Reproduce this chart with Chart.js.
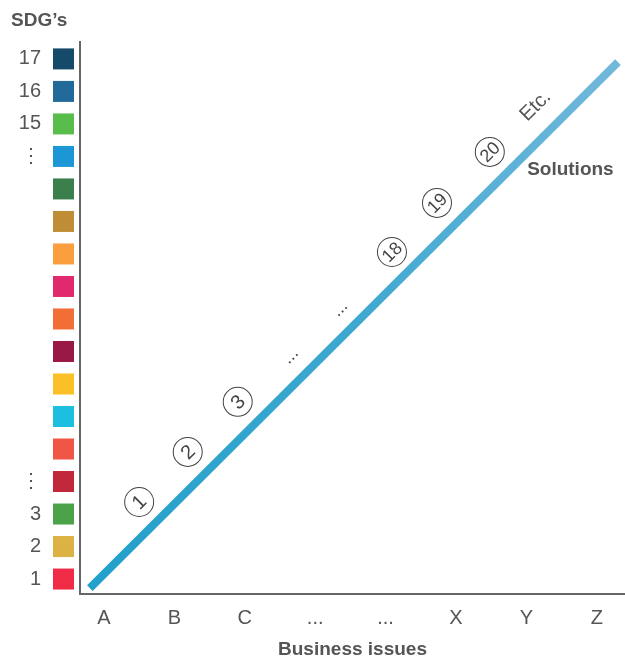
<!DOCTYPE html>
<html>
<head>
<meta charset="utf-8">
<script src="https://cdn.jsdelivr.net/npm/chart.js@4"></script>
<style>
  body { margin: 0; background: #fff; }
  #wrap { width: 625px; height: 659px; position: relative; }
</style>
</head>
<body>
<div id="wrap"><canvas id="sdgChart"></canvas></div>
<script>
// SDG rows (bottom to top)
const sdgRows = [1, 2, 3, 4, 5, 6, 7, 8, 9, 10, 11, 12, 13, 14, 15, 16, 17];
const sdgLabels = ['1', '2', '3', '⋮', '', '', '', '', '', '', '', '', '', '⋮', '15', '16', '17'];
const sdgColors = ['#ef2b45', '#dcb244', '#4ba248', '#c2263a', '#f05545', '#1dbfe1', '#fbbf28',
    '#9a1846', '#f36d37', '#e0296f', '#fa9e3e', '#bf8d35', '#3a7f4c', '#1b97d5', '#59bd4b',
    '#226a9a', '#154a6b'];

// Business issues along the bottom
const issueLabels = ['A', 'B', 'C', '...', '...', 'X', 'Y', 'Z'];

// Solutions line (start / end)
const lineX = [-0.2, 7.3];
const lineY = [0.72, 16.9];

// Numbered solutions along the line
const markerLabels = ['1', '2', '3', '…', '…', '18', '19', '20', 'Etc.'];
const markerX = [0.5, 1.19, 1.9, 2.68, 3.38, 4.09, 4.73, 5.48, 6.13];
const markerY = [3.37, 4.91, 6.45, 7.8, 9.25, 11.06, 12.57, 14.14, 15.55];

const FONT = '"Liberation Sans", Arial, sans-serif';
const TEXT = '#555';

const decorPlugin = {
    id: 'decor',
    afterDatasetsDraw(chart) {
        const ctx = chart.ctx;
        const xs = chart.scales.x, ys = chart.scales.y;
        ctx.save();
        markerLabels.forEach(function(lbl, i) {
            const px = xs.getPixelForValue(markerX[i]);
            const py = ys.getPixelForValue(markerY[i]);
            ctx.save();
            ctx.translate(px, py);
            ctx.rotate(-Math.PI / 4);
            ctx.fillStyle = '#444';
            ctx.textAlign = 'center';
            ctx.textBaseline = 'middle';
            if (lbl === '…') {
                ctx.font = '18px ' + FONT;
                ctx.fillText('...', 0, -3);
            } else if (lbl === 'Etc.') {
                ctx.fillStyle = TEXT;
                ctx.font = '20px ' + FONT;
                ctx.fillText(lbl, 0, 0);
            } else {
                ctx.beginPath();
                ctx.arc(0, 0, 14.5, 0, Math.PI * 2);
                ctx.strokeStyle = '#444';
                ctx.lineWidth = 1;
                ctx.stroke();
                ctx.font = (lbl.length > 1 ? '18px ' : '20px ') + FONT;
                ctx.fillText(lbl, 0, 1);
            }
            ctx.restore();
        });
        // Solutions label
        ctx.fillStyle = TEXT;
        ctx.font = 'bold 19px ' + FONT;
        ctx.textAlign = 'left';
        ctx.textBaseline = 'middle';
        ctx.fillText('Solutions', xs.getPixelForValue(6.01), ys.getPixelForValue(13.58));
        ctx.restore();
    },
    afterDraw(chart) {
        const ctx = chart.ctx;
        const ys = chart.scales.y;
        const left = chart.chartArea.left;
        ctx.save();
        sdgRows.forEach(function(row, i) {
            const py = ys.getPixelForValue(row);
            ctx.fillStyle = sdgColors[i];
            ctx.fillRect(left - 27, py - 10.5, 21, 21);
        });
        ctx.fillStyle = TEXT;
        ctx.font = 'bold 19px ' + FONT;
        ctx.textAlign = 'left';
        ctx.textBaseline = 'middle';
        ctx.fillText('SDG’s', 11, 21);
        ctx.restore();
    }
};

new Chart(document.getElementById('sdgChart'), {
    type: 'line',
    data: {
        datasets: [{
            data: lineX.map(function(x, i) { return { x: x, y: lineY[i] }; }),
            borderWidth: 8,
            borderCapStyle: 'butt',
            pointRadius: 0,
            borderColor: function(context) {
                const chart = context.chart;
                if (!chart.chartArea) return '#2aa3cf';
                const xs = chart.scales.x, ys = chart.scales.y;
                const g = chart.ctx.createLinearGradient(
                    xs.getPixelForValue(lineX[0]), ys.getPixelForValue(lineY[0]),
                    xs.getPixelForValue(lineX[1]), ys.getPixelForValue(lineY[1]));
                g.addColorStop(0, '#22a0cb');
                g.addColorStop(0.5, '#3ea8d0');
                g.addColorStop(1, '#72b8db');
                return g;
            }
        }]
    },
    options: {
        responsive: true,
        maintainAspectRatio: false,
        animation: false,
        layout: {
            padding: { top: 42, right: 0, bottom: 0, left: 0 }
        },
        scales: {
            x: {
                type: 'linear',
                min: -0.34,
                max: 7.4,
                afterBuildTicks: function(scale) {
                    scale.ticks = issueLabels.map(function(_, i) { return { value: i }; });
                },
                afterFit: function(scale) { scale.height = 65; },
                grid: { display: false, drawTicks: false },
                border: { color: '#666', width: 2 },
                ticks: {
                    autoSkip: false,
                    maxRotation: 0,
                    padding: 12,
                    color: TEXT,
                    font: { family: FONT, size: 20 },
                    callback: function(value, index) { return issueLabels[index]; }
                },
                title: {
                    display: true,
                    text: 'Business issues',
                    color: TEXT,
                    font: { family: FONT, size: 19, weight: 'bold', lineHeight: 1 },
                    padding: { top: 0, bottom: 0 }
                }
            },
            y: {
                type: 'linear',
                min: 0.54,
                max: 17.52,
                afterBuildTicks: function(scale) {
                    scale.ticks = sdgRows.map(function(r) { return { value: r }; });
                },
                afterFit: function(scale) {
                    scale.width = 80;
                    // the big tick padding should not push the plot area down
                    scale.paddingTop = 0;
                    scale.paddingBottom = 0;
                },
                grid: { display: false, drawTicks: false },
                border: { color: '#666', width: 2 },
                ticks: {
                    autoSkip: false,
                    padding: 39,
                    color: TEXT,
                    font: { family: FONT, size: 20 },
                    callback: function(value, index) { return sdgLabels[index]; }
                }
            }
        },
        plugins: {
            legend: { display: false },
            tooltip: { enabled: false }
        }
    },
    plugins: [decorPlugin]
});
</script>
</body>
</html>
